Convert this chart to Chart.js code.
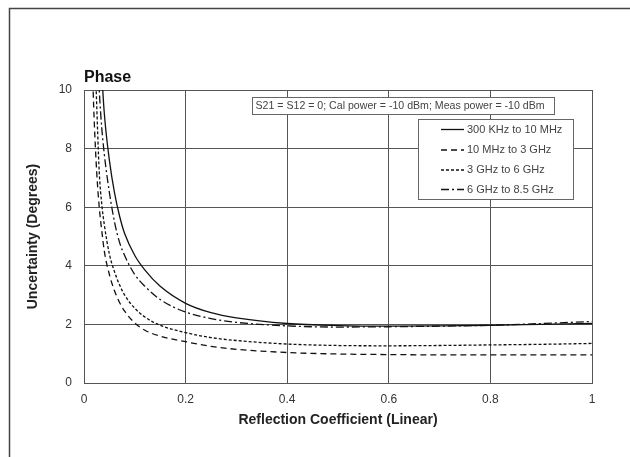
<!DOCTYPE html>
<html>
<head>
<meta charset="utf-8">
<script src="https://cdn.jsdelivr.net/npm/chart.js@4/dist/chart.umd.min.js"></script>
<style>
  html, body { margin: 0; padding: 0; background: #fff; }
  canvas { display: block; }
</style>
</head>
<body>
<canvas id="phaseChart" width="630" height="457"></canvas>
<script>
// series labels (legend order)
const seriesLabels = ["300 KHz to 10 MHz", "10 MHz to 3 GHz", "3 GHz to 6 GHz", "6 GHz to 8.5 GHz"];

// reflection coefficient sample points, one list per curve
const xSolid   = [0.03, 0.035, 0.04, 0.05, 0.06, 0.07, 0.08, 0.1, 0.12, 0.15, 0.2, 0.25, 0.3, 0.4, 0.5, 0.6, 0.7, 0.8, 0.9, 1.0];
const ySolid   = [12.5, 10.6, 9.2, 7.6, 6.5, 5.7, 5.1, 4.35, 3.85, 3.3, 2.72, 2.4, 2.22, 2.03, 1.96, 1.94, 1.95, 1.97, 2.0, 2.03];

const xDashed  = [0.015, 0.018, 0.02, 0.025, 0.03, 0.035, 0.04, 0.05, 0.06, 0.07, 0.08, 0.1, 0.12, 0.15, 0.2, 0.25, 0.3, 0.4, 0.5, 0.6, 0.7, 0.8, 0.9, 1.0];
const yDashed  = [12, 10, 9.0, 7.2, 6.0, 5.2, 4.5, 3.7, 3.15, 2.75, 2.45, 2.05, 1.8, 1.6, 1.41, 1.25, 1.15, 1.04, 0.99, 0.97, 0.96, 0.96, 0.96, 0.96];

const xDotted  = [0.02, 0.024, 0.03, 0.035, 0.04, 0.05, 0.06, 0.07, 0.08, 0.1, 0.12, 0.15, 0.2, 0.25, 0.3, 0.4, 0.5, 0.6, 0.7, 0.8, 0.9, 1.0];
const yDotted  = [12, 10, 7.2, 6.1, 5.4, 4.4, 3.8, 3.35, 3.0, 2.55, 2.25, 1.97, 1.72, 1.55, 1.45, 1.33, 1.28, 1.27, 1.28, 1.30, 1.32, 1.35];

const xDashDot = [0.025, 0.03, 0.035, 0.04, 0.05, 0.06, 0.07, 0.08, 0.1, 0.12, 0.15, 0.2, 0.25, 0.3, 0.4, 0.5, 0.6, 0.7, 0.8, 0.9, 1.0];
const yDashDot = [12, 10, 8.7, 7.8, 6.5, 5.5, 4.8, 4.35, 3.7, 3.3, 2.85, 2.42, 2.2, 2.07, 1.95, 1.91, 1.92, 1.94, 1.97, 2.03, 2.1];

const xTicks = [0, 0.2, 0.4, 0.6, 0.8, 1];
const yTicks = [0, 2, 4, 6, 8, 10];

const noteText = "S21 = S12 = 0; Cal power = -10 dBm; Meas power = -10 dBm";

const FONT = "'Liberation Sans', Arial, sans-serif";

function toPoints(xs, ys) {
  return xs.map((x, i) => ({ x, y: ys[i] }));
}

function makeSet(label, xs, ys, dash) {
  return {
    label,
    data: toPoints(xs, ys),
    borderColor: "#111",
    borderWidth: 1.3,
    borderDash: dash,
    pointRadius: 0,
    fill: false,
    cubicInterpolationMode: "monotone",
  };
}

// frame lines, note box and legend box drawn on the canvas
const extrasPlugin = {
  id: "extras",
  beforeDraw(chart) {
    const ctx = chart.ctx;
    ctx.save();
    ctx.fillStyle = "#fff";
    ctx.fillRect(0, 0, chart.width, chart.height);
    ctx.strokeStyle = "#444";
    ctx.lineWidth = 1.5;
    ctx.beginPath();
    ctx.moveTo(9.5, chart.height);
    ctx.lineTo(9.5, 8.5);
    ctx.lineTo(chart.width, 8.5);
    ctx.stroke();
    ctx.restore();
  },
  afterDatasetsDraw(chart) {
    const ctx = chart.ctx;
    ctx.save();
    // note box
    ctx.fillStyle = "#fff";
    ctx.fillRect(252.5, 97.5, 302, 17);
    ctx.strokeStyle = "#666";
    ctx.lineWidth = 1;
    ctx.strokeRect(252.5, 97.5, 302, 17);
    ctx.fillStyle = "#444";
    ctx.font = "10.6px " + FONT;
    ctx.textBaseline = "middle";
    ctx.textAlign = "left";
    ctx.fillText(noteText, 255.5, 106.5);

    // legend box
    ctx.fillStyle = "#fff";
    ctx.fillRect(418.5, 119.5, 155, 80);
    ctx.strokeStyle = "#666";
    ctx.strokeRect(418.5, 119.5, 155, 80);
    ctx.font = "11px " + FONT;
    const rows = [129.5, 150, 170, 189.5];
    chart.data.datasets.forEach((ds, i) => {
      const y = rows[i];
      ctx.strokeStyle = ds.borderColor;
      ctx.lineWidth = ds.borderWidth;
      ctx.setLineDash(ds.borderDash || []);
      ctx.beginPath();
      ctx.moveTo(441, y);
      ctx.lineTo(464, y);
      ctx.stroke();
      ctx.setLineDash([]);
      ctx.fillStyle = "#444";
      ctx.fillText(ds.label, 467, y);
    });
    ctx.restore();
  },
};

const chart = new Chart(document.getElementById("phaseChart").getContext("2d"), {
  type: "line",
  data: {
    datasets: [
      makeSet(seriesLabels[0], xSolid, ySolid, []),
      makeSet(seriesLabels[1], xDashed, yDashed, [6, 4]),
      makeSet(seriesLabels[2], xDotted, yDotted, [3, 2]),
      makeSet(seriesLabels[3], xDashDot, yDashDot, [8, 3, 2, 3]),
    ],
  },
  options: {
    responsive: false,
    animation: false,
    layout: { padding: { left: 24, right: 38, top: 60, bottom: 25 } },
    plugins: {
      legend: { display: false },
      tooltip: { enabled: false },
      title: {
        display: true,
        text: "Phase",
        align: "start",
        fullSize: false,
        color: "#111",
        font: { family: FONT, size: 16, weight: "bold" },
        padding: { top: 8.4, bottom: 2.4 },
      },
    },
    scales: {
      x: {
        type: "linear",
        min: 0,
        max: 1,
        afterBuildTicks: (s) => { s.ticks = xTicks.map((v) => ({ value: v })); },
        afterFit: (s) => { s.height = 49; },
        grid: { color: "#555", lineWidth: 1, drawTicks: false },
        border: { color: "#555" },
        ticks: {
          padding: 9,
          color: "#333",
          font: { family: FONT, size: 12 },
          callback: (v) => String(v),
        },
        title: {
          display: true,
          text: "Reflection Coefficient (Linear)",
          color: "#222",
          font: { family: FONT, size: 14, weight: "bold" },
          padding: { top: 0, bottom: 3.6 },
        },
      },
      y: {
        type: "linear",
        min: 0,
        max: 10,
        afterBuildTicks: (s) => { s.ticks = yTicks.map((v) => ({ value: v })); },
        afterFit: (s) => { s.width = 60; },
        grid: { color: "#555", lineWidth: 1, drawTicks: false },
        border: { color: "#555" },
        ticks: {
          padding: 12,
          color: "#333",
          font: { family: FONT, size: 12 },
        },
        title: {
          display: true,
          text: "Uncertainty (Degrees)",
          color: "#222",
          font: { family: FONT, size: 14, weight: "bold" },
          padding: { top: 1, bottom: 0 },
        },
      },
    },
  },
  plugins: [extrasPlugin],
});
</script>
</body>
</html>
